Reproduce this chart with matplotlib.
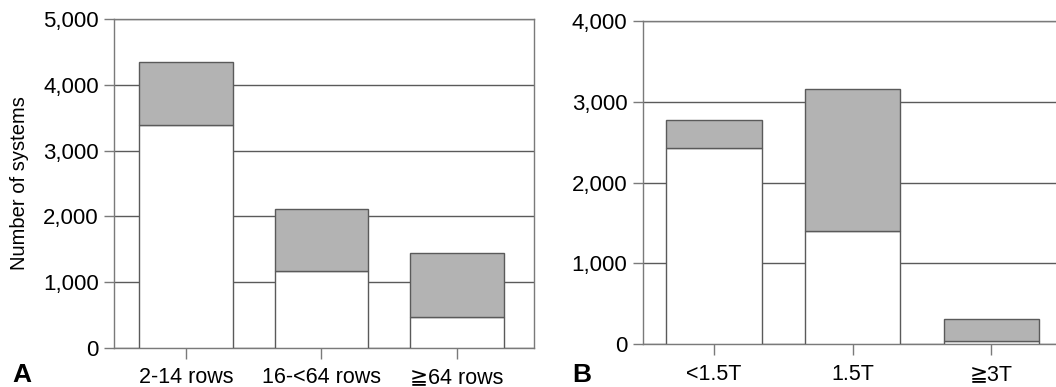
import matplotlib
matplotlib.use('Agg')
import matplotlib.pyplot as plt

plt.rcParams['font.family'] = ['Liberation Sans', 'DejaVu Sans']

# Panel A: CT systems by detector rows
ct_labels = ['2-14 rows', '16-<64 rows', '≧64 rows']
ct_lower = [3385, 1165, 472]
ct_total = [4340, 2110, 1440]

# Panel B: MR systems by field strength
mr_labels = ['<1.5T', '1.5T', '≧3T']
mr_lower = [2432, 1407, 40]
mr_total = [2775, 3160, 314]

line_col = '#5a5a5a'
spine_col = '#7a7a7a'
fill_col = '#b3b3b3'

fig = plt.figure(figsize=(10.56, 3.87), dpi=100)
axA = fig.add_axes([0.108, 0.1008, 0.398, 0.850])
axB = fig.add_axes([0.6086, 0.1103, 0.4027, 0.8354])


def draw_panel(ax, labels, lower, total, ymax, step, xlim):
    x = range(len(labels))
    upper = [t - l for t, l in zip(total, lower)]
    ax.bar(x, lower, width=0.69, color='white', edgecolor=line_col, linewidth=1.0, zorder=3)
    ax.bar(x, upper, bottom=lower, width=0.69, color=fill_col, edgecolor=line_col,
           linewidth=1.0, zorder=3)
    ax.set_xlim(*xlim)
    ax.set_ylim(0, ymax)
    ax.set_yticks(range(0, ymax + 1, step))
    ax.set_yticklabels(['{:,}'.format(v) for v in range(0, ymax + 1, step)])
    ax.set_xticks(list(x))
    ax.set_xticklabels(labels)
    ax.yaxis.grid(True, color=line_col, linewidth=1.0)
    ax.set_axisbelow(True)
    for s in ax.spines.values():
        s.set_color(spine_col)
        s.set_linewidth(1.0)
    ax.tick_params(axis='y', length=7, width=1, color=spine_col, pad=4, labelsize=16)
    ax.tick_params(axis='x', length=8, width=1, color=spine_col, pad=6, labelsize=15.5)


draw_panel(axA, ct_labels, ct_lower, ct_total, 5000, 1000, (-0.53, 2.57))
axA.set_ylabel('Number of systems', fontsize=14.5, labelpad=10)
draw_panel(axB, mr_labels, mr_lower, mr_total, 4000, 1000, (-0.51, 2.55))

fig.text(0.012, 0.012, 'A', fontsize=19, fontweight='bold')
fig.text(0.542, 0.012, 'B', fontsize=19, fontweight='bold')

plt.savefig('out.png', dpi=100)
